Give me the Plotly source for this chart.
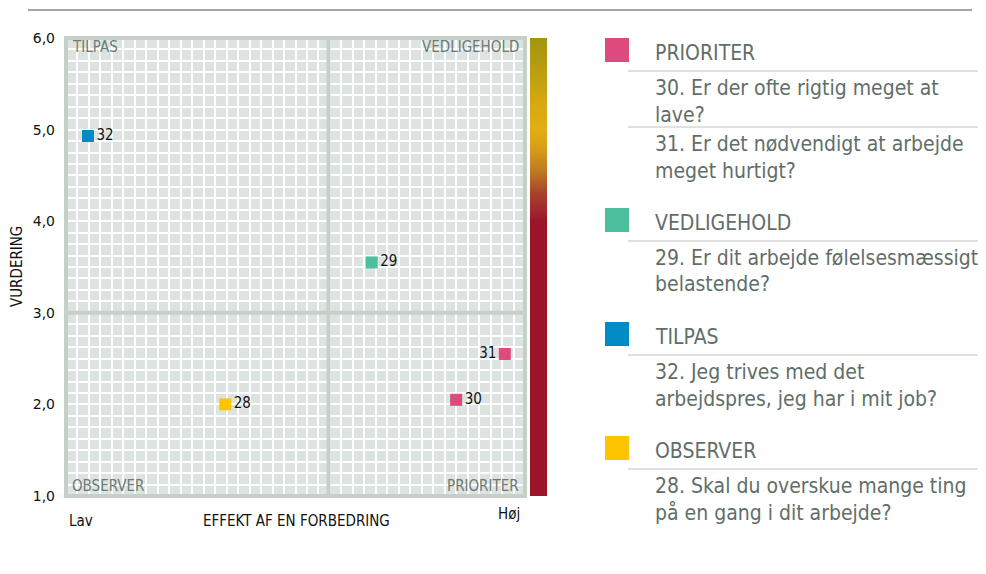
import plotly.graph_objects as go

# ---------------- data ----------------
point_ids = ["32", "29", "31", "30", "28"]
point_x = [4.8, 66.6, 95.6, 85.0, 34.7]          # EFFEKT AF EN FORBEDRING (0 = Lav, 100 = Høj)
point_y = [4.93, 3.55, 2.55, 2.05, 2.0]         # VURDERING
point_group = ["TILPAS", "VEDLIGEHOLD", "PRIORITER", "PRIORITER", "OBSERVER"]

y_ticks = [1, 2, 3, 4, 5, 6]
y_tick_labels = ["1,0", "2,0", "3,0", "4,0", "5,0", "6,0"]
x_split = 57.2
y_split = 3.0

quadrant_labels = ["TILPAS", "VEDLIGEHOLD", "OBSERVER", "PRIORITER"]

legend_groups = ["PRIORITER", "VEDLIGEHOLD", "TILPAS", "OBSERVER"]
legend_items = {
    "PRIORITER": [["30. Er der ofte rigtig meget at", "lave?"],
                  ["31. Er det nødvendigt at arbejde", "meget hurtigt?"]],
    "VEDLIGEHOLD": [["29. Er dit arbejde følelsesmæssigt", "belastende?"]],
    "TILPAS": [["32. Jeg trives med det", "arbejdspres, jeg har i mit job?"]],
    "OBSERVER": [["28. Skal du overskue mange ting", "på en gang i dit arbejde?"]],
}
group_colors = {"PRIORITER": "#dc4a7e", "VEDLIGEHOLD": "#4dbf9f",
                "TILPAS": "#008bc4", "OBSERVER": "#ffc400"}

# colour bar (VURDERING scale)
bar_stops = [1.0, 4.0, 4.05, 4.3, 4.55, 4.8, 5.0, 5.3, 5.7, 6.0]
bar_colors = ["#9b1428", "#9b1428", "#9e1e2e", "#a8422a", "#c07a22", "#d89e18",
              "#e1ae14", "#d6a812", "#b69c10", "#a39510"]

# ---------------- layout helpers ----------------
# The page keeps its default 8px body margin, so the figure is 16px smaller
# than the window and every window position is shifted by the margin.
WIN_W, WIN_H, M = 986, 574, 8
W, H = WIN_W - 2 * M, WIN_H - 2 * M
def px(x): return (x - M) / W
def py(y): return 1 - (y - M) / H

FONT = "DejaVu Sans Condensed, DejaVu Sans, sans-serif"
GRAY_TXT = "#5f6e69"

fig = go.Figure()

# colour bar as heatmap
n = 501
bar_y = [1 + 5 * i / (n - 1) for i in range(n)]
fig.add_trace(go.Heatmap(
    x=[0], y=bar_y, z=[[v] for v in bar_y], xaxis="x2", yaxis="y",
    zmin=1, zmax=6, showscale=False, hoverinfo="skip",
    colorscale=[[(s - 1) / 5, c] for s, c in zip(bar_stops, bar_colors)],
))

# points
for i, pid in enumerate(point_ids):
    fig.add_trace(go.Scatter(
        x=[point_x[i]], y=[point_y[i]], mode="markers+text",
        marker=dict(symbol="square", size=12, color=group_colors[point_group[i]], line=dict(width=0)),
        text=[pid], textposition="middle left" if pid == "31" else "middle right",
        textfont=dict(family=FONT, size=15, color="#111111"),
        showlegend=False, hoverinfo="skip", cliponaxis=False,
    ))

x_dom = [px(66), px(525)]
y_dom = [py(496), py(38)]

fig.update_layout(
    template="none",
    width=W, height=H, autosize=False,
    margin=dict(l=0, r=0, t=0, b=0, pad=0, autoexpand=False),
    paper_bgcolor="white", plot_bgcolor="#dde3e0",
    font=dict(family=FONT, color="#111111"),
    showlegend=False,
    xaxis=dict(domain=x_dom, range=[0, 100], showticklabels=False, ticks="", automargin=False,
               showgrid=True, gridcolor="white", gridwidth=2, dtick=10,
               minor=dict(dtick=2.5, showgrid=True, gridcolor="white", gridwidth=2),
               zeroline=False, showline=False, fixedrange=True),
    yaxis=dict(domain=y_dom, range=[1, 6], tickvals=y_ticks, ticktext=y_tick_labels,
               tickfont=dict(family="DejaVu Sans", size=14, color="#111111"),
               ticks="", ticklabelstandoff=10, automargin=False,
               showgrid=True, gridcolor="white", gridwidth=2,
               minor=dict(dtick=0.125, showgrid=True, gridcolor="white", gridwidth=2),
               zeroline=False, showline=False, fixedrange=True),
    xaxis2=dict(domain=[px(530), px(547)], range=[-0.5, 0.5], anchor="y", automargin=False,
                visible=False, showgrid=False, fixedrange=True),
)

shapes = []
# quadrant split lines and frame
shapes.append(dict(type="line", xref="x", yref="y domain", x0=x_split, x1=x_split, y0=0, y1=1,
                   line=dict(color="#c5d0c8", width=4), layer="above"))
shapes.append(dict(type="line", xref="x domain", yref="y", x0=0, x1=1, y0=y_split, y1=y_split,
                   line=dict(color="#c5d0c8", width=4), layer="above"))
shapes.append(dict(type="rect", xref="x domain", yref="y domain", x0=0, x1=1, y0=0, y1=1,
                   line=dict(color="#c5d0c8", width=4), layer="above"))
# top rule
shapes.append(dict(type="line", xref="paper", yref="paper", x0=px(28), x1=px(972), y0=py(10), y1=py(10),
                   line=dict(color="#7f8b87", width=1.5)))

annotations = []
# quadrant labels
qpos = {"TILPAS": (px(70), py(47), "left"), "VEDLIGEHOLD": (px(521), py(47), "right"),
        "OBSERVER": (px(70), py(486), "left"), "PRIORITER": (px(521), py(486), "right")}
for q in quadrant_labels:
    x, y, anc = qpos[q]
    annotations.append(dict(x=x, y=y, xref="paper", yref="paper", text=q, showarrow=False,
                            xanchor=anc, yanchor="middle",
                            font=dict(family=FONT, size=15, color="#6b7a75")))
# axis texts
annotations.append(dict(x=px(17), y=py(267), xref="paper", yref="paper", text="VURDERING",
                        textangle=-90, showarrow=False, xanchor="center", yanchor="middle",
                        font=dict(family=FONT, size=15, color="#111111")))
annotations.append(dict(x=px(296), y=py(521), xref="paper", yref="paper", text="EFFEKT AF EN FORBEDRING",
                        showarrow=False, xanchor="center", yanchor="middle",
                        font=dict(family=FONT, size=15, color="#111111")))
annotations.append(dict(x=px(67), y=py(521), xref="paper", yref="paper", text="Lav",
                        showarrow=False, xanchor="left", yanchor="middle",
                        font=dict(family=FONT, size=15, color="#111111")))
annotations.append(dict(x=px(522), y=py(514), xref="paper", yref="paper", text="Høj",
                        showarrow=False, xanchor="right", yanchor="middle",
                        font=dict(family=FONT, size=15, color="#111111")))

# custom legend
group_top = {"PRIORITER": 38, "VEDLIGEHOLD": 208, "TILPAS": 322, "OBSERVER": 436}
LINE_H = 26.5
for g in legend_groups:
    top = group_top[g]
    shapes.append(dict(type="rect", xref="paper", yref="paper", x0=px(605), x1=px(629),
                       y0=py(top + 24), y1=py(top), fillcolor=group_colors[g], line=dict(width=0)))
    annotations.append(dict(x=px(653), y=py(top + 15), xref="paper", yref="paper", text=g,
                            showarrow=False, xanchor="left", yanchor="middle",
                            font=dict(family=FONT, size=21, color=GRAY_TXT)))
    sep_y = top + 33
    for item in legend_items[g]:
        shapes.append(dict(type="line", xref="paper", yref="paper", x0=px(628), x1=1,
                           y0=py(sep_y), y1=py(sep_y), line=dict(color="#e0e0e0", width=2)))
        for k, line in enumerate(item):
            annotations.append(dict(x=px(653), y=py(sep_y + 17 + k * LINE_H), xref="paper", yref="paper",
                                    text=line, showarrow=False, xanchor="left", yanchor="middle",
                                    font=dict(family=FONT, size=21, color=GRAY_TXT)))
        sep_y += 56

fig.update_layout(shapes=shapes, annotations=annotations)
fig.write_html("out.html", config={"displayModeBar": False})
